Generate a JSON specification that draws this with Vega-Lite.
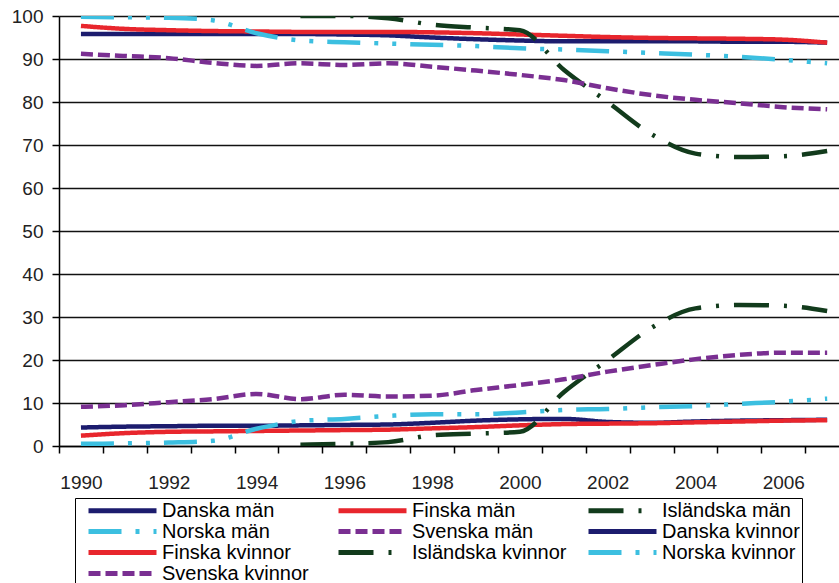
{
  "$schema": "https://vega.github.io/schema/vega-lite/v6.json",
  "autosize": {"type": "none"},
  "padding": {"left": 59, "top": 16, "right": 0, "bottom": 137},
  "width": 780,
  "height": 430,
  "background": "white",
  "config": {
    "view": {"stroke": null},
    "font": "Liberation Sans"
  },
  "data": {
    "values": [
      {"year": 1990, "series": "Danska män", "value": 95.8},
      {"year": 1991, "series": "Danska män", "value": 95.8},
      {"year": 1992, "series": "Danska män", "value": 95.8},
      {"year": 1993, "series": "Danska män", "value": 95.8},
      {"year": 1994, "series": "Danska män", "value": 95.8},
      {"year": 1995, "series": "Danska män", "value": 95.8},
      {"year": 1996, "series": "Danska män", "value": 95.7},
      {"year": 1997, "series": "Danska män", "value": 95.5},
      {"year": 1998, "series": "Danska män", "value": 95.0},
      {"year": 1999, "series": "Danska män", "value": 94.6},
      {"year": 2000, "series": "Danska män", "value": 94.3},
      {"year": 2001, "series": "Danska män", "value": 94.1},
      {"year": 2002, "series": "Danska män", "value": 94.1},
      {"year": 2003, "series": "Danska män", "value": 94.1},
      {"year": 2004, "series": "Danska män", "value": 94.1},
      {"year": 2005, "series": "Danska män", "value": 94.0},
      {"year": 2006, "series": "Danska män", "value": 94.0},
      {"year": 2007, "series": "Danska män", "value": 93.8},

      {"year": 1990, "series": "Finska män", "value": 97.7},
      {"year": 1991, "series": "Finska män", "value": 97.0},
      {"year": 1992, "series": "Finska män", "value": 96.7},
      {"year": 1993, "series": "Finska män", "value": 96.5},
      {"year": 1994, "series": "Finska män", "value": 96.4},
      {"year": 1995, "series": "Finska män", "value": 96.3},
      {"year": 1996, "series": "Finska män", "value": 96.3},
      {"year": 1997, "series": "Finska män", "value": 96.3},
      {"year": 1998, "series": "Finska män", "value": 96.2},
      {"year": 1999, "series": "Finska män", "value": 96.0},
      {"year": 2000, "series": "Finska män", "value": 95.7},
      {"year": 2001, "series": "Finska män", "value": 95.4},
      {"year": 2002, "series": "Finska män", "value": 95.1},
      {"year": 2003, "series": "Finska män", "value": 94.9},
      {"year": 2004, "series": "Finska män", "value": 94.8},
      {"year": 2005, "series": "Finska män", "value": 94.7},
      {"year": 2006, "series": "Finska män", "value": 94.5},
      {"year": 2007, "series": "Finska män", "value": 93.8},

      {"year": 1995, "series": "Isländska män", "value": 100.0},
      {"year": 1996, "series": "Isländska män", "value": 100.0},
      {"year": 1997, "series": "Isländska män", "value": 99.5},
      {"year": 1998, "series": "Isländska män", "value": 98.0},
      {"year": 1999, "series": "Isländska män", "value": 97.3},
      {"year": 2000, "series": "Isländska män", "value": 96.7},
      {"year": 2001, "series": "Isländska män", "value": 87.5},
      {"year": 2002, "series": "Isländska män", "value": 80.0},
      {"year": 2003, "series": "Isländska män", "value": 72.5},
      {"year": 2004, "series": "Isländska män", "value": 68.0},
      {"year": 2005, "series": "Isländska män", "value": 67.2},
      {"year": 2006, "series": "Isländska män", "value": 67.4},
      {"year": 2007, "series": "Isländska män", "value": 68.6},

      {"year": 1990, "series": "Norska män", "value": 99.8},
      {"year": 1991, "series": "Norska män", "value": 99.7},
      {"year": 1992, "series": "Norska män", "value": 99.6},
      {"year": 1993, "series": "Norska män", "value": 99.0},
      {"year": 1994, "series": "Norska män", "value": 96.0},
      {"year": 1995, "series": "Norska män", "value": 94.3},
      {"year": 1996, "series": "Norska män", "value": 93.9},
      {"year": 1997, "series": "Norska män", "value": 93.6},
      {"year": 1998, "series": "Norska män", "value": 93.3},
      {"year": 1999, "series": "Norska män", "value": 93.0},
      {"year": 2000, "series": "Norska män", "value": 92.5},
      {"year": 2001, "series": "Norska män", "value": 92.2},
      {"year": 2002, "series": "Norska män", "value": 91.8},
      {"year": 2003, "series": "Norska män", "value": 91.4},
      {"year": 2004, "series": "Norska män", "value": 91.0},
      {"year": 2005, "series": "Norska män", "value": 90.5},
      {"year": 2006, "series": "Norska män", "value": 89.8},
      {"year": 2007, "series": "Norska män", "value": 89.0},

      {"year": 1990, "series": "Svenska män", "value": 91.2},
      {"year": 1991, "series": "Svenska män", "value": 90.7},
      {"year": 1992, "series": "Svenska män", "value": 90.2},
      {"year": 1993, "series": "Svenska män", "value": 89.1},
      {"year": 1994, "series": "Svenska män", "value": 88.4},
      {"year": 1995, "series": "Svenska män", "value": 89.0},
      {"year": 1996, "series": "Svenska män", "value": 88.6},
      {"year": 1997, "series": "Svenska män", "value": 89.0},
      {"year": 1998, "series": "Svenska män", "value": 88.2},
      {"year": 1999, "series": "Svenska män", "value": 87.3},
      {"year": 2000, "series": "Svenska män", "value": 86.3},
      {"year": 2001, "series": "Svenska män", "value": 85.1},
      {"year": 2002, "series": "Svenska män", "value": 83.2},
      {"year": 2003, "series": "Svenska män", "value": 81.6},
      {"year": 2004, "series": "Svenska män", "value": 80.5},
      {"year": 2005, "series": "Svenska män", "value": 79.7},
      {"year": 2006, "series": "Svenska män", "value": 78.8},
      {"year": 2007, "series": "Svenska män", "value": 78.3},

      {"year": 1990, "series": "Danska kvinnor", "value": 4.3},
      {"year": 1991, "series": "Danska kvinnor", "value": 4.5},
      {"year": 1992, "series": "Danska kvinnor", "value": 4.6},
      {"year": 1993, "series": "Danska kvinnor", "value": 4.7},
      {"year": 1994, "series": "Danska kvinnor", "value": 4.7},
      {"year": 1995, "series": "Danska kvinnor", "value": 4.8},
      {"year": 1996, "series": "Danska kvinnor", "value": 4.9},
      {"year": 1997, "series": "Danska kvinnor", "value": 5.0},
      {"year": 1998, "series": "Danska kvinnor", "value": 5.4},
      {"year": 1999, "series": "Danska kvinnor", "value": 5.9},
      {"year": 2000, "series": "Danska kvinnor", "value": 6.2},
      {"year": 2001, "series": "Danska kvinnor", "value": 6.3},
      {"year": 2002, "series": "Danska kvinnor", "value": 5.6},
      {"year": 2003, "series": "Danska kvinnor", "value": 5.4},
      {"year": 2004, "series": "Danska kvinnor", "value": 5.7},
      {"year": 2005, "series": "Danska kvinnor", "value": 5.9},
      {"year": 2006, "series": "Danska kvinnor", "value": 6.0},
      {"year": 2007, "series": "Danska kvinnor", "value": 6.1},

      {"year": 1990, "series": "Finska kvinnor", "value": 2.4},
      {"year": 1991, "series": "Finska kvinnor", "value": 3.0},
      {"year": 1992, "series": "Finska kvinnor", "value": 3.3},
      {"year": 1993, "series": "Finska kvinnor", "value": 3.4},
      {"year": 1994, "series": "Finska kvinnor", "value": 3.5},
      {"year": 1995, "series": "Finska kvinnor", "value": 3.6},
      {"year": 1996, "series": "Finska kvinnor", "value": 3.7},
      {"year": 1997, "series": "Finska kvinnor", "value": 3.8},
      {"year": 1998, "series": "Finska kvinnor", "value": 4.1},
      {"year": 1999, "series": "Finska kvinnor", "value": 4.4},
      {"year": 2000, "series": "Finska kvinnor", "value": 4.8},
      {"year": 2001, "series": "Finska kvinnor", "value": 5.1},
      {"year": 2002, "series": "Finska kvinnor", "value": 5.2},
      {"year": 2003, "series": "Finska kvinnor", "value": 5.3},
      {"year": 2004, "series": "Finska kvinnor", "value": 5.5},
      {"year": 2005, "series": "Finska kvinnor", "value": 5.7},
      {"year": 2006, "series": "Finska kvinnor", "value": 5.9},
      {"year": 2007, "series": "Finska kvinnor", "value": 6.0},

      {"year": 1995, "series": "Isländska kvinnor", "value": 0.3},
      {"year": 1996, "series": "Isländska kvinnor", "value": 0.5},
      {"year": 1997, "series": "Isländska kvinnor", "value": 0.9},
      {"year": 1998, "series": "Isländska kvinnor", "value": 2.5},
      {"year": 1999, "series": "Isländska kvinnor", "value": 2.9},
      {"year": 2000, "series": "Isländska kvinnor", "value": 3.3},
      {"year": 2001, "series": "Isländska kvinnor", "value": 12.5},
      {"year": 2002, "series": "Isländska kvinnor", "value": 20.0},
      {"year": 2003, "series": "Isländska kvinnor", "value": 27.5},
      {"year": 2004, "series": "Isländska kvinnor", "value": 32.0},
      {"year": 2005, "series": "Isländska kvinnor", "value": 32.8},
      {"year": 2006, "series": "Isländska kvinnor", "value": 32.6},
      {"year": 2007, "series": "Isländska kvinnor", "value": 31.4},

      {"year": 1990, "series": "Norska kvinnor", "value": 0.5},
      {"year": 1991, "series": "Norska kvinnor", "value": 0.6},
      {"year": 1992, "series": "Norska kvinnor", "value": 0.8},
      {"year": 1993, "series": "Norska kvinnor", "value": 1.2},
      {"year": 1994, "series": "Norska kvinnor", "value": 4.0},
      {"year": 1995, "series": "Norska kvinnor", "value": 5.8},
      {"year": 1996, "series": "Norska kvinnor", "value": 6.3},
      {"year": 1997, "series": "Norska kvinnor", "value": 7.0},
      {"year": 1998, "series": "Norska kvinnor", "value": 7.4},
      {"year": 1999, "series": "Norska kvinnor", "value": 7.4},
      {"year": 2000, "series": "Norska kvinnor", "value": 7.8},
      {"year": 2001, "series": "Norska kvinnor", "value": 8.4},
      {"year": 2002, "series": "Norska kvinnor", "value": 8.6},
      {"year": 2003, "series": "Norska kvinnor", "value": 9.0},
      {"year": 2004, "series": "Norska kvinnor", "value": 9.3},
      {"year": 2005, "series": "Norska kvinnor", "value": 9.8},
      {"year": 2006, "series": "Norska kvinnor", "value": 10.3},
      {"year": 2007, "series": "Norska kvinnor", "value": 11.0},

      {"year": 1990, "series": "Svenska kvinnor", "value": 9.1},
      {"year": 1991, "series": "Svenska kvinnor", "value": 9.5},
      {"year": 1992, "series": "Svenska kvinnor", "value": 10.2},
      {"year": 1993, "series": "Svenska kvinnor", "value": 10.9},
      {"year": 1994, "series": "Svenska kvinnor", "value": 12.1},
      {"year": 1995, "series": "Svenska kvinnor", "value": 10.9},
      {"year": 1996, "series": "Svenska kvinnor", "value": 11.9},
      {"year": 1997, "series": "Svenska kvinnor", "value": 11.5},
      {"year": 1998, "series": "Svenska kvinnor", "value": 11.7},
      {"year": 1999, "series": "Svenska kvinnor", "value": 13.0},
      {"year": 2000, "series": "Svenska kvinnor", "value": 14.2},
      {"year": 2001, "series": "Svenska kvinnor", "value": 15.5},
      {"year": 2002, "series": "Svenska kvinnor", "value": 17.3},
      {"year": 2003, "series": "Svenska kvinnor", "value": 18.8},
      {"year": 2004, "series": "Svenska kvinnor", "value": 20.2},
      {"year": 2005, "series": "Svenska kvinnor", "value": 21.2},
      {"year": 2006, "series": "Svenska kvinnor", "value": 21.7},
      {"year": 2007, "series": "Svenska kvinnor", "value": 21.7}
    ]
  },
  "mark": {"type": "line", "interpolate": "monotone", "strokeWidth": 4.5, "clip": true},
  "encoding": {
    "x": {
      "field": "year",
      "type": "quantitative",
      "scale": {"domain": [1989.5, 2007.27], "nice": false, "zero": false},
      "axis": {
        "title": null,
        "values": [1989.5, 1990.5, 1991.5, 1992.5, 1993.5, 1994.5, 1995.5, 1996.5, 1997.5, 1998.5, 1999.5, 2000.5, 2001.5, 2002.5, 2003.5, 2004.5, 2005.5, 2006.5],
        "labelExpr": "((datum.value + 0.5) % 2 == 0) ? format(datum.value + 0.5, 'd') : ''",
        "labelOffset": 22,
        "labelOverlap": false,
        "labelFlush": false,
        "labelBound": false,
        "labelFont": "Liberation Sans",
        "labelFontSize": 19,
        "labelColor": "#222222",
        "labelPadding": 20,
        "tickSize": 7,
        "tickColor": "black",
        "tickWidth": 1.5,
        "domainColor": "black",
        "domainWidth": 1.5,
        "grid": false
      }
    },
    "y": {
      "field": "value",
      "type": "quantitative",
      "scale": {"domain": [0, 100], "nice": false},
      "axis": {
        "title": null,
        "values": [0, 10, 20, 30, 40, 50, 60, 70, 80, 90, 100],
        "labelFont": "Liberation Sans",
        "labelFontSize": 19,
        "labelColor": "#222222",
        "labelPadding": 9,
        "tickSize": 7,
        "tickColor": "black",
        "tickWidth": 1.5,
        "domainColor": "black",
        "domainWidth": 1.5,
        "grid": true,
        "gridColor": "#111111",
        "gridWidth": 1.3
      }
    },
    "color": {
      "field": "series",
      "type": "nominal",
      "scale": {
        "domain": ["Danska män", "Finska män", "Isländska män", "Norska män", "Svenska män", "Danska kvinnor", "Finska kvinnor", "Isländska kvinnor", "Norska kvinnor", "Svenska kvinnor"],
        "range": ["#1c1c6e", "#e8262d", "#123b1c", "#3cbfe0", "#7a2f92", "#1c1c6e", "#e8262d", "#123b1c", "#3cbfe0", "#7a2f92"]
      },
      "legend": {
        "title": null,
        "orient": "none",
        "legendX": 16,
        "legendY": 482,
        "direction": "horizontal",
        "columns": 3,
        "gridAlign": "all",
        "columnPadding": 10,
        "rowPadding": -4,
        "padding": 2,
        "strokeColor": "black",
        "fillColor": "white",
        "symbolType": "M-4.25,0H4.25",
        "symbolSize": 256,
        "symbolStrokeWidth": 5,
        "symbolOffset": 35,
        "labelOffset": 29,
        "labelFont": "Liberation Sans",
        "labelFontSize": 20,
        "labelColor": "black",
        "labelLimit": 0
      }
    },
    "strokeDash": {
      "field": "series",
      "type": "nominal",
      "scale": {
        "domain": ["Danska män", "Finska män", "Isländska män", "Norska män", "Svenska män", "Danska kvinnor", "Finska kvinnor", "Isländska kvinnor", "Norska kvinnor", "Svenska kvinnor"],
        "range": [[1, 0], [1, 0], [35, 15, 3, 15], [33, 14, 4, 14, 4, 14], [12, 5], [1, 0], [1, 0], [35, 15, 3, 15], [33, 14, 4, 14, 4, 14], [12, 5]]
      },
      "legend": null
    }
  }
}
